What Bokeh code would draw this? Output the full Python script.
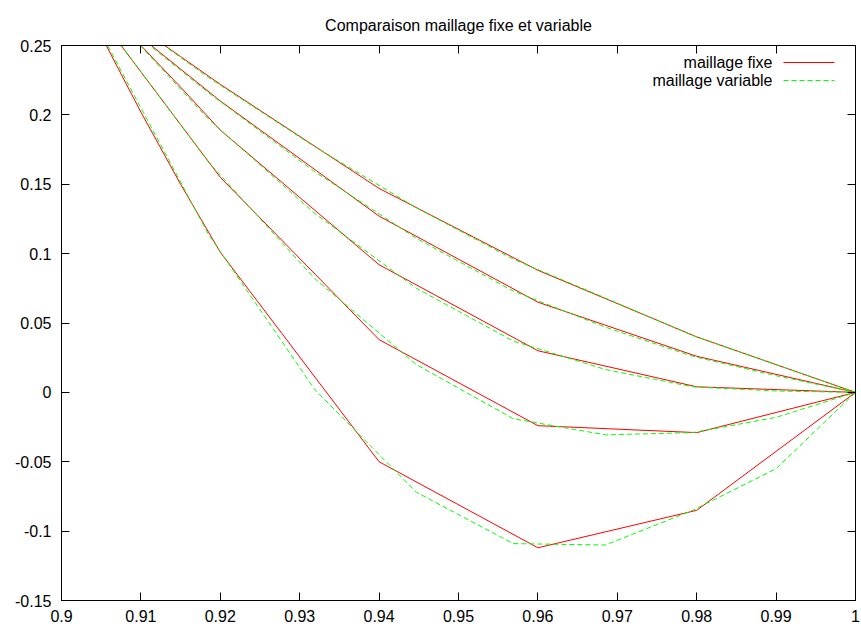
from bokeh.plotting import figure
from bokeh.models import LinearAxis, FixedTicker, Range1d, Label, Arrow
from bokeh.embed import file_html
from bokeh.resources import INLINE

# ---- data ----
fixe_x = [0.90, 0.905, 0.91, 0.915, 0.92, 0.94, 0.96, 0.98, 1.00]
fixe_1 = [0.313, 0.257, 0.202, 0.150, 0.101, -0.050, -0.112, -0.085, 0.0]
fixe_2 = [0.307, 0.269, 0.231, 0.193, 0.155, 0.038, -0.024, -0.029, 0.0]
fixe_3 = [0.311, 0.280, 0.250, 0.220, 0.189, 0.092, 0.030, 0.004, 0.0]
fixe_4 = [0.302, 0.279, 0.256, 0.233, 0.210, 0.127, 0.065, 0.026, 0.0]
fixe_5 = [0.303, 0.283, 0.262, 0.242, 0.222, 0.147, 0.088, 0.040, 0.0]

var_x = [0.9044, 0.9185, 0.9319, 0.9447, 0.9569, 0.9685, 0.9795, 0.9900, 1.00]
var_1 = [0.265, 0.114, 0.002, -0.072, -0.109, -0.110, -0.085, -0.055, 0.0]
var_2 = [0.274, 0.166, 0.082, 0.020, -0.019, -0.0306, -0.029, -0.018, 0.0]
var_3 = [0.284, 0.197, 0.129, 0.075, 0.037, 0.0165, 0.004, 0.001, 0.0]
var_4 = [0.281, 0.216, 0.159, 0.111, 0.073, 0.047, 0.026, 0.012, 0.0]
var_5 = [0.285, 0.227, 0.177, 0.133, 0.096, 0.068, 0.041, 0.020, 0.0]

x_ticks = [0.9, 0.91, 0.92, 0.93, 0.94, 0.95, 0.96, 0.97, 0.98, 0.99, 1.0]
x_tick_labels = ["0.9", "0.91", "0.92", "0.93", "0.94", "0.95", "0.96", "0.97", "0.98", "0.99", "1"]
y_ticks = [-0.15, -0.1, -0.05, 0.0, 0.05, 0.1, 0.15, 0.2, 0.25]
y_tick_labels = ["-0.15", "-0.1", "-0.05", "0", "0.05", "0.1", "0.15", "0.2", "0.25"]

title_text = "Comparaison maillage fixe et variable"
legend_fixe = "maillage fixe"
legend_var = "maillage variable"

FONT = "Liberation Sans"
TICK_FS = "16px"
TITLE_FS = "16px"
LEG_FS = "16px"

p = figure(width=861, height=629, output_backend="svg", toolbar_location=None,
           x_range=Range1d(0.9, 1.0), y_range=Range1d(-0.15, 0.25),
           min_border_left=61, min_border_right=6, min_border_top=45, min_border_bottom=29,
           title=title_text)
p.background_fill_color = "white"
p.border_fill_color = "white"
p.outline_line_color = "black"
p.outline_line_width = 1
p.xgrid.visible = False
p.ygrid.visible = False

p.title.text_font = FONT
p.title.text_font_size = TITLE_FS
p.title.text_font_style = "normal"
p.title.align = "center"
p.title.text_color = "black"
p.title.standoff = 24

def style_axis(ax):
    ax.major_tick_in = 8
    ax.major_tick_out = 0
    ax.minor_tick_in = 0
    ax.minor_tick_out = 0
    ax.axis_line_color = "black"
    ax.major_tick_line_color = "black"
    ax.major_label_text_font = FONT
    ax.major_label_text_color = "black"
    ax.major_label_text_font_size = TICK_FS

p.xaxis.ticker = FixedTicker(ticks=x_ticks, minor_ticks=[])
p.yaxis.ticker = FixedTicker(ticks=y_ticks, minor_ticks=[])
p.xaxis.major_label_overrides = dict(zip(x_ticks, x_tick_labels))
p.yaxis.major_label_overrides = dict(zip(y_ticks, y_tick_labels))
style_axis(p.xaxis[0])
style_axis(p.yaxis[0])
p.xaxis.major_label_standoff = 9
p.yaxis.major_label_standoff = 10

# mirrored tick marks on the top and right edges (no labels there)
top_ax = LinearAxis(ticker=FixedTicker(ticks=x_ticks, minor_ticks=[]))
style_axis(top_ax)
top_ax.major_label_overrides = {t: "" for t in x_ticks}
top_ax.major_label_standoff = 0
top_ax.major_label_text_font_size = "1px"
p.add_layout(top_ax, "above")
right_ax = LinearAxis(ticker=FixedTicker(ticks=y_ticks, minor_ticks=[]))
style_axis(right_ax)
right_ax.major_label_overrides = {t: "" for t in y_ticks}
right_ax.major_label_standoff = 0
right_ax.major_label_text_font_size = "1px"
p.add_layout(right_ax, "right")

fixe_series = [fixe_1, fixe_2, fixe_3, fixe_4, fixe_5]
var_series = [var_1, var_2, var_3, var_4, var_5]

for ys in fixe_series:
    p.line(fixe_x, ys, line_color="#ff0000", line_width=1)
for ys in var_series:
    p.line(var_x, ys, line_color="#00ff00", line_width=1, line_dash="5 3")

# gnuplot-style key: label, then line sample to its right
p.add_layout(Label(x=711, y=538, x_units="screen", y_units="screen", text=legend_fixe,
                   text_align="right", text_baseline="middle", text_font=FONT,
                   text_font_size=LEG_FS, text_color="black"))
p.add_layout(Label(x=711, y=520, x_units="screen", y_units="screen", text=legend_var,
                   text_align="right", text_baseline="middle", text_font=FONT,
                   text_font_size=LEG_FS, text_color="black"))
p.add_layout(Arrow(x_start=722, y_start=538, x_end=773, y_end=538,
                   start_units="screen", end_units="screen", end=None,
                   line_color="#ff0000", line_width=1))
p.add_layout(Arrow(x_start=722, y_start=520, x_end=773, y_end=520,
                   start_units="screen", end_units="screen", end=None,
                   line_color="#00ff00", line_width=1, line_dash="5 3"))

open("out.html", "w").write(file_html(p, INLINE))
